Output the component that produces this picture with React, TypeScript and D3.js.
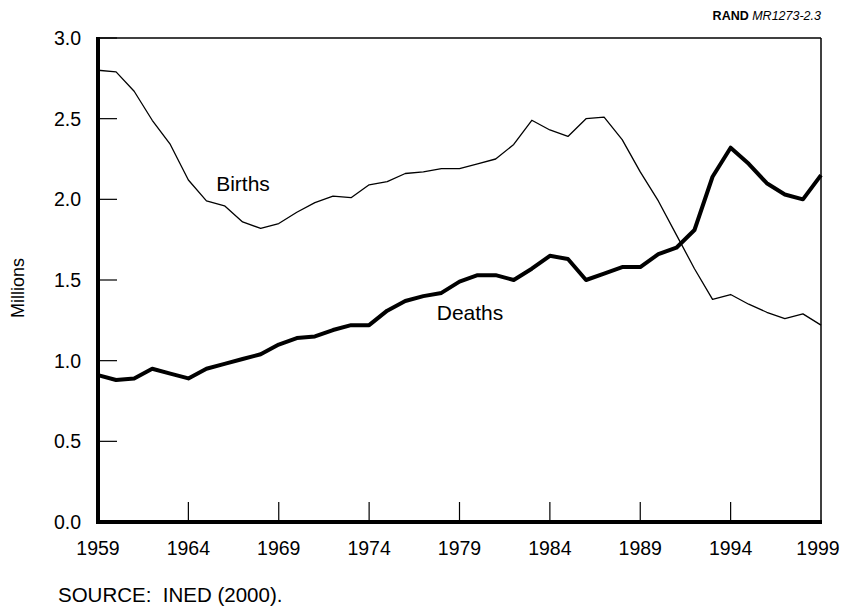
import React from "react";
import * as d3 from "d3";

const years = d3.range(1959, 2000);
const births = [
  2.80, 2.79, 2.67, 2.49, 2.34, 2.12, 1.99, 1.96, 1.86, 1.82,
  1.85, 1.92, 1.98, 2.02, 2.01, 2.09, 2.11, 2.16, 2.17, 2.19,
  2.19, 2.22, 2.25, 2.34, 2.49, 2.43, 2.39, 2.50, 2.51, 2.37,
  2.17, 1.99, 1.78, 1.57, 1.38, 1.41, 1.35, 1.30, 1.26, 1.29, 1.22,
];
const deaths = [
  0.91, 0.88, 0.89, 0.95, 0.92, 0.89, 0.95, 0.98, 1.01, 1.04,
  1.10, 1.14, 1.15, 1.19, 1.22, 1.22, 1.31, 1.37, 1.40, 1.42,
  1.49, 1.53, 1.53, 1.50, 1.57, 1.65, 1.63, 1.50, 1.54, 1.58,
  1.58, 1.66, 1.70, 1.81, 2.14, 2.32, 2.22, 2.10, 2.03, 2.00, 2.15,
];
const xTicks = [1959, 1964, 1969, 1974, 1979, 1984, 1989, 1994, 1999];
const yTicks = [0, 0.5, 1.0, 1.5, 2.0, 2.5, 3.0];

const W = 846, H = 609;
const L = 98, R = 821, T = 38, B = 522;
const FONT = "'Liberation Sans', Arial, Helvetica, sans-serif";

export default function App() {
  const x = d3.scaleLinear().domain([1959, 1999]).range([L, R]);
  const y = d3.scaleLinear().domain([0, 3]).range([B, T]);
  const line = d3.line<number>().x((_, i) => x(years[i])).y((d) => y(d));

  return (
    <svg width={W} height={H} style={{ position: "absolute", left: 0, top: 0, background: "#fff" }} fontFamily={FONT}>
      <rect x={0} y={0} width={W} height={H} fill="#fff" />
      <text x={R} y={20} textAnchor="end" fontSize={12.5} fill="#000">
        <tspan fontWeight="bold">RAND </tspan>
        <tspan fontStyle="italic">MR1273-2.3</tspan>
      </text>
      {/* frame */}
      <line x1={L} y1={T} x2={R} y2={T} stroke="#000" strokeWidth={1.5} />
      <line x1={R} y1={T} x2={R} y2={B} stroke="#000" strokeWidth={1.5} />
      {/* y ticks */}
      {yTicks.map((t) => (
        <g key={t}>
          {t > 0 && <line x1={L} x2={L + 19} y1={y(t)} y2={y(t)} stroke="#000" strokeWidth={1.2} />}
          <text x={81} y={y(t)} dy="0.36em" textAnchor="end" fontSize={19.5} fill="#000">
            {t.toFixed(1)}
          </text>
        </g>
      ))}
      {/* x ticks */}
      {xTicks.map((t) => (
        <g key={t}>
          {t > 1959 && t < 1999 && (
            <line x1={x(t)} x2={x(t)} y1={B} y2={B - 20} stroke="#000" strokeWidth={1.2} />
          )}
          <text x={t === 1999 ? x(t) - 3 : x(t)} y={555} textAnchor="middle" fontSize={19.5} fill="#000">
            {t}
          </text>
        </g>
      ))}
      <path d={line(births) || ""} fill="none" stroke="#000" strokeWidth={1.3} strokeLinejoin="round" />
      <path d={line(deaths) || ""} fill="none" stroke="#000" strokeWidth={4} strokeLinejoin="round" />
      {/* axes heavy */}
      <line x1={L} y1={T - 1} x2={L} y2={B + 2} stroke="#000" strokeWidth={4} />
      <line x1={L - 2} y1={B} x2={R + 1} y2={B} stroke="#000" strokeWidth={4} />
      <text x={243} y={191} textAnchor="middle" fontSize={21} fill="#000">Births</text>
      <text x={470} y={320} textAnchor="middle" fontSize={21} fill="#000">Deaths</text>
      <text transform={`translate(24,${(T + B) / 2 + 8}) rotate(-90)`} textAnchor="middle" fontSize={18} fill="#000">
        Millions
      </text>
      <text x={58} y={602} fontSize={20.5} fill="#000" style={{ whiteSpace: "pre" }}>
        {"SOURCE:  INED (2000)."}
      </text>
    </svg>
  );
}
